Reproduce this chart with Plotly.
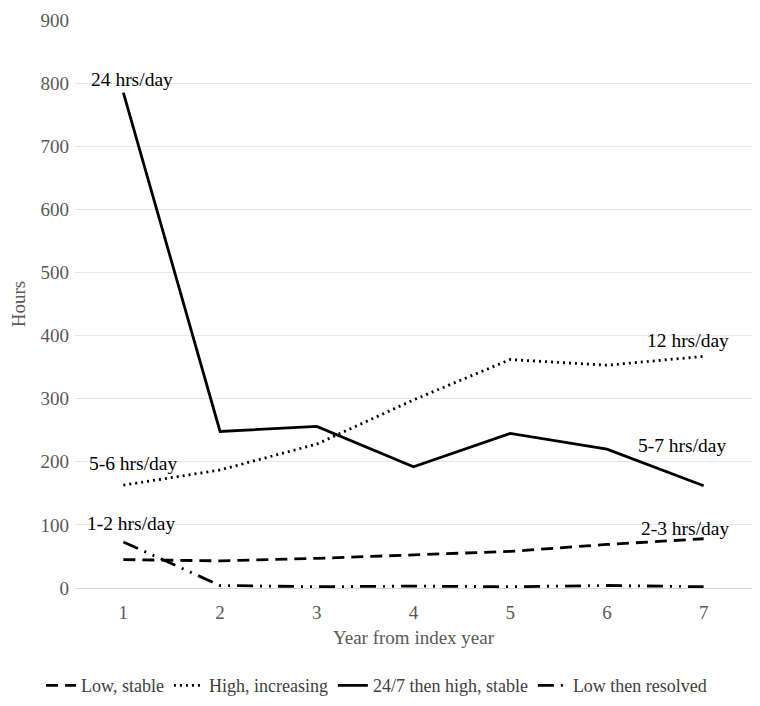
import plotly.graph_objects as go

years = [1, 2, 3, 4, 5, 6, 7]
low_stable = [45, 43, 47, 53, 58, 69, 78]
high_increasing = [163, 187, 228, 298, 362, 353, 367]
high_stable_247 = [785, 248, 256, 192, 245, 220, 162]
low_resolved = [73, 4, 2, 3, 2, 4, 2]

series_names = ["Low, stable", "High, increasing", "24/7 then high, stable", "Low then resolved"]
label_texts = ["24 hrs/day", "12 hrs/day", "5-6 hrs/day", "5-7 hrs/day", "1-2 hrs/day", "2-3 hrs/day"]
label_x = [1, 7, 1, 7, 1, 7]
label_y = [806, 392, 197, 226, 103, 95]
label_xshift = [9, -16, 10, -21, 8, -18]

FONT = "'Liberation Serif', 'Times New Roman', Tinos, serif"

fig = go.Figure()
fig.add_trace(go.Scatter(x=years, y=low_stable, mode="lines", name=series_names[0],
                         line=dict(color="black", width=2.8, dash="12px,7px")))
fig.add_trace(go.Scatter(x=years, y=high_increasing, mode="lines", name=series_names[1],
                         line=dict(color="black", width=2.8, dash="2px,4px")))
fig.add_trace(go.Scatter(x=years, y=high_stable_247, mode="lines", name=series_names[2],
                         line=dict(color="black", width=2.8)))
fig.add_trace(go.Scatter(x=years, y=low_resolved, mode="lines", name=series_names[3],
                         line=dict(color="black", width=2.8, dash="16px,7px,2px,7px,2px,7px")))

for t, xx, yy, xs in zip(label_texts, label_x, label_y, label_xshift):
    fig.add_annotation(x=xx, y=yy, text=t, showarrow=False, xshift=xs,
                       font=dict(family=FONT, size=19.5, color="black"))

fig.update_layout(
    width=760, height=706,
    margin=dict(l=67, r=16, t=12, b=126, autoexpand=False),
    paper_bgcolor="white", plot_bgcolor="white",
    font=dict(family=FONT, size=19, color="#595959"),
    showlegend=True,
    legend=dict(orientation="h", xref="container", yref="container",
                x=0.485, xanchor="center", y=0.04, yanchor="middle",
                font=dict(family=FONT, size=18, color="#404040"),
                itemwidth=30, tracegroupgap=0),
)
fig.update_xaxes(range=[0.5, 7.5], tickmode="array", tickvals=years,
                 showgrid=False, showline=True, linecolor="#d9d9d9", linewidth=1,
                 ticks="", zeroline=False, ticklabelstandoff=7,
                 title=dict(text="Year from index year", font=dict(family=FONT, size=19, color="#595959"), standoff=8),
                 tickfont=dict(family=FONT, size=19, color="#595959"))
fig.update_yaxes(range=[0, 900], dtick=100, showgrid=True, gridcolor="#e6e6e6", gridwidth=1,
                 zeroline=False, showline=False, ticks="", ticklabelstandoff=5,
                 title=dict(text="Hours", font=dict(family=FONT, size=19, color="#595959"), standoff=14),
                 tickfont=dict(family=FONT, size=19, color="#595959"))

fig.write_html("out.html")
